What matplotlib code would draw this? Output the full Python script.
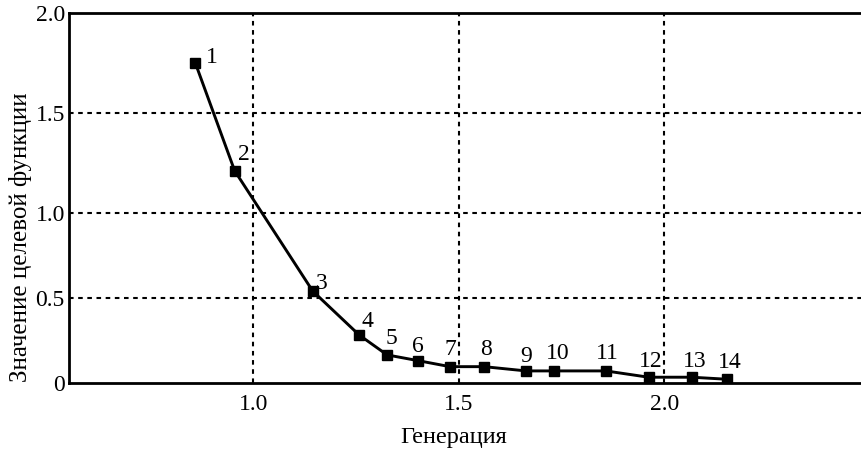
import matplotlib
matplotlib.use("Agg")
import matplotlib.pyplot as plt
import numpy as np

# values
generation = [0.859, 0.955, 1.145, 1.258, 1.326, 1.402, 1.479, 1.562,
              1.664, 1.733, 1.858, 1.962, 2.067, 2.153]
objective = [1.75, 1.21, 0.54, 0.282, 0.165, 0.131, 0.096, 0.096,
             0.071, 0.071, 0.071, 0.034, 0.034, 0.022]
point_labels = [str(i) for i in range(1, 15)]
xticks = [1.0, 1.5, 2.0]
yticks = [0, 0.5, 1.0, 1.5, 2.0]
ytick_labels = ["0", "0.5", "1.0", "1.5", "2.0"]

# label offsets (pixels) from each marker
offsets = [(17, 5), (9, 16), (9, 8), (8, 13), (4, 16), (0, 14), (0, 17),
           (2, 17), (0, 14), (3, 17), (2, 17), (2, 16), (3, 16), (3, 17)]

# the original axis is not uniform: 0..1 is squeezed relative to 1..2
K = 0.85


def fwd(v):
    v = np.asarray(v, dtype=float)
    return np.where(v <= 1, K * v, K + (v - 1))


def inv(u):
    u = np.asarray(u, dtype=float)
    return np.where(u <= K, u / K, 1 + (u - K))


plt.rcParams["font.family"] = ["Liberation Serif", "DejaVu Serif"]
FS = 17

fig = plt.figure(figsize=(8.61, 4.5), dpi=100)
ax = fig.add_axes([69 / 861, 67 / 450, 792 / 861, 370.5 / 450])
ax.set_yscale("function", functions=(fwd, inv))

ax.plot(generation, objective, color="black", lw=2.1, marker="s",
        markersize=6.5, zorder=3)
for x, y, t, (dx, dy) in zip(generation, objective, point_labels, offsets):
    ax.annotate(t, (x, y), xytext=(dx, dy), textcoords="offset pixels",
                ha="center", va="center", fontsize=FS)

ax.set_xlim(0.552, 2.479)
ax.set_ylim(0, 2.0)
ax.set_xticks(xticks)
ax.set_xticklabels([f"{v:.1f}" for v in xticks])
ax.set_yticks(yticks)
ax.set_yticklabels(ytick_labels)
ax.tick_params(length=0, labelsize=FS)
ax.tick_params(axis="x", pad=8)
ax.tick_params(axis="y", pad=3)

for v in xticks:
    ax.axvline(v, color="black", lw=1.5, ls=(0, (2.2, 2.2)), zorder=1)
for v in yticks[1:-1]:
    ax.axhline(v, color="black", lw=1.5, ls=(0, (2.2, 2.2)), zorder=1)

ax.spines["right"].set_visible(False)
for s in ("left", "top", "bottom"):
    ax.spines[s].set_linewidth(2.0)

ax.set_xlabel("Генерация", fontsize=FS + 0.5)
ax.xaxis.set_label_coords(0.486, -0.119)
ax.set_ylabel("Значение целевой функции", fontsize=FS + 1)
ax.yaxis.set_label_coords(-0.047, 0.394)

fig.savefig("out.png", dpi=100)
